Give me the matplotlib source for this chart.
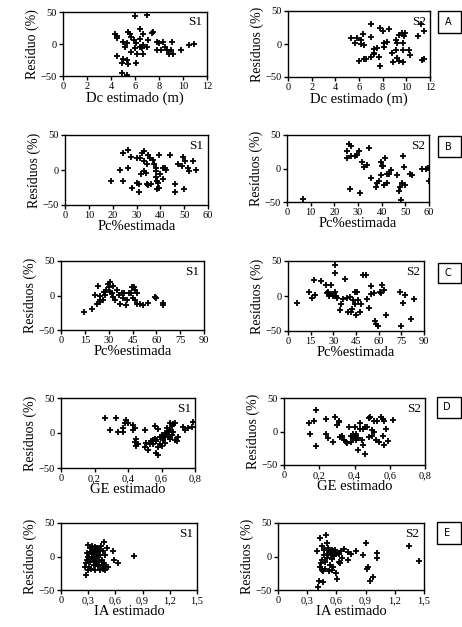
import matplotlib
matplotlib.use("Agg")
import matplotlib.pyplot as plt
from matplotlib.patches import Rectangle

plt.rcParams['font.family'] = ['Liberation Serif', 'DejaVu Serif']

# ---------------- data ----------------
# Panel A: Dc estimado (m)
a1_x = [6.0, 7.0, 4.3, 4.5, 4.5, 5.0, 5.3, 5.4, 5.6, 6.4, 6.7, 7.4, 7.5, 5.7, 5.9, 6.1, 6.4, 6.6, 6.0, 5.7,
        6.2, 6.7, 7.0, 7.1, 4.5, 5.0, 5.3, 5.4, 4.9, 6.1, 4.9, 5.3, 7.8, 8.0, 8.3, 8.5, 7.8, 8.2, 8.7, 9.0,
        9.1, 9.2, 8.8, 9.8, 10.5, 10.9, 6.4, 5.2, 6.7]
a1_y = [43, 45, 16, 12, 10, 3, 1, 19, 16, 24, 16, 17, 19, 11, 6, 1, -5, -7, -7, -12,
        -15, -15, -4, 6, -18, -23, -25, -31, -30, -30, -45, -49, 3, 1, 3, -5, -10, -9, -10, -9,
        3, -15, -15, -9, -2, 0, 8, -5, -1]
a2_x = [5.35, 5.7, 5.8, 6.2, 6.3, 6.4, 6.2, 6.0, 6.4, 6.6, 7.0, 7.0, 7.3, 7.3, 7.5, 7.7, 7.0, 7.3, 7.8, 7.8,
        8.0, 8.1, 8.1, 8.5, 8.8, 8.9, 9.1, 9.1, 9.2, 9.2, 9.4, 9.6, 9.7, 9.7, 9.7, 9.8, 9.4, 10.2, 10.3, 11.0,
        11.2, 11.5, 11.3, 11.5, 8.4, 9.9]
a2_y = [8.5, 2, 8.5, 6, 14.5, -1.5, 0, -25.6, -23, -23, 30, 10, -8, -14, -6.5, -20, -20, -15, -34, 24,
        19, 2, -4, 22, -13, -27, -9, 6, 1, -21.6, 13.6, 17, 2, -9, -27, 12, -26, -9, -17, 12,
        31, 20, -24, -22, 3.5, 16]

# Panel B: Pc% estimada (0-60)
b1_x = [19.5, 23, 24.5, 24.5, 26.5, 26.5, 27.5, 28, 30, 30, 31, 31, 31.5, 32.5, 33, 33, 34, 33, 34.5, 35,
        35.5, 34.5, 35, 36, 37, 37.5, 38, 38, 38, 38.5, 39, 38.5, 39.5, 39.5, 41, 42, 42.5, 41, 44, 46,
        46, 47.5, 49.5, 50, 50.5, 51.5, 52, 53.5, 55, 49, 32, 40]
b1_y = [-15, 0, 25, -15, 3, 28, 19, -25, 17, -18, -20, -32, 17, 25, 27, -1.5, -4, 13, 8, 22,
        17, -20, -22, -20, 15, 9, 3, -1.5, -10, -15, -18, -27, -25, 22, 3, 3, -0.5, -13, 22, -20,
        -32, 8, 19, -27, 13, 3, -1.5, 13, -0.5, 5.5, -6, -6]
b2_x = [6.6, 25.3, 25.3, 26.3, 27, 26.7, 27.2, 28.6, 29.5, 30.5, 30.9, 31.9, 32.6, 33.7, 34.7, 35.4, 37.5, 38.2,
        38.9, 39.6, 39.9, 40.3, 40.7, 41.3, 41, 42.1, 42.4, 43.1, 43.8, 46.3, 47.3, 47.8, 48.1, 48.7, 49.2, 49.4,
        49.7, 52, 52.9, 57.2, 58.6, 59.6, 59.97]
b2_y = [-45, 26, 15, 37, 34, -30, 18, 19, 20, 26, -37, 10, 1.5, 5.4, 30, -14, -27, -22,
        -19, -9, 10, 3, 3, 15, -24, -22, -8, -8, -2, -9.4, -34, -27, -47, -22, 18, 1.5,
        -24, -8, -10, 0, 0, 0.5, -19]

# Panel C: Pc% estimada (0-90)
c1_x = [14.6, 19.5, 21.5, 23.6, 24.3, 24.7, 26.4, 26.8, 27.8, 28.5, 29.3, 29.9, 31, 31, 32, 32.6, 33, 34, 35.1, 36.2,
        37.2, 38.3, 38.9, 39.7, 41, 41.4, 42.5, 43.9, 44.6, 45.2, 46, 46.7, 46.7, 47.7, 48.1, 49.8, 51.9, 55, 59.2, 59.8,
        64, 64.5, 22.6, 24.3]
c1_y = [-23.7, -20, 0.5, 13.5, -9, -1, -6, 5, 0.5, 7.7, 17, 12.6, 20, 5, 3, 13.5, -2, -6.8, 7.7, 0.5,
        -11.6, 3.9, -4.3, 3.9, -14, -6.8, 3, 3.9, 12.6, -4.3, 11.6, 7.7, -6.8, 3.9, -11.6, -11.6, -14, -10.6, -2, -4.3,
        -10.6, -14, -11.6, -6.8]
c2_x = [6.2, 13.7, 15.9, 17.2, 18.1, 21.6, 25.4, 26, 26.5, 26.9, 28.3, 28.7, 29.8, 30.9, 31.3, 30.9, 32, 32.7, 34.2, 35.3,
        36.4, 37.5, 39.3, 39.7, 40.8, 41.5, 42.4, 43, 44.2, 44.6, 45.3, 45.9, 46.4, 47.5, 48.1, 49.7, 51.9, 52.5, 53.4, 54.7,
        55.2, 57, 57.4, 58.5, 59.6, 60.7, 61.4, 62.3, 63.6, 65.1, 74, 75, 76.2, 77.3, 81.7, 83.4]
c2_y = [-10, 6, -2.4, 23.4, 1, 21.5, 15.3, 4.3, 5.7, 0, 3.3, 15.3, -0.5, 5.7, 45, 33, -0.5, -2.4, -19.6, -12,
        -3.8, 24.9, -2.4, -23, -1.4, -23, -18, -5.3, 5.7, -11, -27.8, 5.7, -5.3, -23, -12, 29.7, 29.7, -3.8, -16.7, 13.9,
        3.3, 4.3, -35, -39.7, -43.5, 5.7, 4.3, 15.3, 9, -27.8, 5.7, -43.5, -10, 1, -32.5, -3.8]

# Panel D: GE estimado
d1_x = [0.26, 0.33, 0.29, 0.34, 0.37, 0.38, 0.39, 0.40, 0.37, 0.43, 0.43, 0.44, 0.45, 0.44, 0.46, 0.45, 0.50, 0.51, 0.50, 0.52,
        0.53, 0.55, 0.55, 0.56, 0.56, 0.57, 0.58, 0.57, 0.58, 0.58, 0.59, 0.59, 0.60, 0.60, 0.61, 0.61, 0.62, 0.62, 0.63, 0.63,
        0.64, 0.64, 0.65, 0.65, 0.65, 0.66, 0.66, 0.67, 0.67, 0.68, 0.68, 0.69, 0.70, 0.73, 0.74, 0.76, 0.78, 0.79, 0.57, 0.54, 0.62]
d1_y = [22, 22, 4, 2, 2, 15, 18, 15, 7, 12, 5, 7, -8, -13, -16, -19, -20, -14, 5, -24,
        -16, -10, -15, -8, 10, -12, 6, -28, -32, -20, -15, -5, -3, -18, -8, -10, -5, 0, -2, 7,
        -5, 2, 5, -8, 14, 10, -3, 2, 13, -10, 15, -12, -5, 9, 4, 7, 8, 16, -10, -12, -14]
d2_x = [0.14, 0.15, 0.17, 0.18, 0.18, 0.24, 0.24, 0.25, 0.28, 0.29, 0.30, 0.31, 0.32, 0.33, 0.34, 0.35, 0.36, 0.37, 0.38, 0.38,
        0.39, 0.39, 0.40, 0.40, 0.41, 0.41, 0.42, 0.42, 0.43, 0.43, 0.44, 0.45, 0.45, 0.46, 0.47, 0.48, 0.48, 0.49, 0.50, 0.50,
        0.51, 0.51, 0.52, 0.53, 0.54, 0.55, 0.56, 0.56, 0.57, 0.57, 0.58, 0.59, 0.62, 0.46, 0.31]
d2_y = [12, -4, 15, 32, -22, 18, -3, -10, -15, 22, 10, 14, -8, -7, -13, -15, -17, 7, -7, -16,
        -3, -9, 7, -6, -4, -12, -10, -27, 4, 13, -12, 4, -20, -34, 6, -8, 20, 21, -7, 2,
        0, 15, -13, 16, -15, 22, 18, -6, 16, -20, 3, -14, 17, 7, 15]

# Panel E: IA estimado
e1_x = [0.27, 0.28, 0.28, 0.29, 0.29, 0.30, 0.30, 0.31, 0.31, 0.32, 0.32, 0.33, 0.33, 0.34, 0.34, 0.35, 0.35, 0.36, 0.36, 0.37,
        0.37, 0.38, 0.38, 0.39, 0.39, 0.40, 0.40, 0.41, 0.41, 0.42, 0.42, 0.43, 0.43, 0.44, 0.45, 0.45, 0.46, 0.46, 0.47, 0.47,
        0.48, 0.49, 0.50, 0.51, 0.52, 0.57, 0.58, 0.63, 0.80, 0.30, 0.33]
e1_y = [-15, -27, -10, -5, 5, 17, -20, 3, -15, 12, -8, 6, -18, 16, 0, -3, 10, -12, 4, 14,
        -6, 7, -20, 1, -10, 12, -2, 6, -14, -8, 9, 2, -20, 15, -5, -12, 8, -18, 22, -10,
        -20, 2, -15, 12, -16, 8, -5, -10, 1, 0, -3]
e2_x = [0.40, 0.41, 0.42, 0.43, 0.43, 0.44, 0.45, 0.45, 0.46, 0.46, 0.47, 0.47, 0.48, 0.48, 0.49, 0.50, 0.50, 0.51, 0.51, 0.52,
        0.52, 0.53, 0.54, 0.55, 0.55, 0.56, 0.57, 0.57, 0.58, 0.59, 0.60, 0.60, 0.61, 0.62, 0.63, 0.63, 0.64, 0.65, 0.66, 0.68,
        0.72, 0.72, 0.75, 0.80, 0.87, 0.90, 0.91, 0.92, 0.95, 0.98, 1.02, 1.02, 1.35, 1.45, 0.45, 0.55]
e2_y = [8, -45, -36, -15, 27, -10, 15, -5, -38, -22, 2, 10, -18, -8, 32, 20, -2, 4, 13, -22,
        6, -12, 2, 10, -3, 5, -15, 8, 1, 10, -25, 3, -33, 5, -8, 3, -10, 8, -2, 11,
        -5, 7, 4, 8, 2, 20, -18, -16, -36, -30, 5, -2, 15, -7, -20, -20]

xlabels = ['Dc estimado (m)', 'Pc%estimada', 'Pc%estimada', 'GE estimado', 'IA estimado']
xlims = [(0, 12), (0, 60), (0, 90), (0, 0.8), (0, 1.5)]
xticks = [[0, 2, 4, 6, 8, 10, 12], [0, 10, 20, 30, 40, 50, 60], [0, 15, 30, 45, 60, 75, 90],
          [0, 0.2, 0.4, 0.6, 0.8], [0, 0.3, 0.6, 0.9, 1.2, 1.5]]
xticklabels = [['0', '2', '4', '6', '8', '10', '12'], ['0', '10', '20', '30', '40', '50', '60'],
               ['0', '15', '30', '45', '60', '75', '90'], ['0', '0,2', '0,4', '0,6', '0,8'],
               ['0', '0,3', '0,6', '0,9', '1,2', '1,5']]
yticks = [-50, 0, 50]
panel_letters = ['A', 'B', 'C', 'D', 'E']
series_labels = ['S1', 'S2']
data = [[(a1_x, a1_y), (a2_x, a2_y)], [(b1_x, b1_y), (b2_x, b2_y)], [(c1_x, c1_y), (c2_x, c2_y)],
        [(d1_x, d1_y), (d2_x, d2_y)], [(e1_x, e1_y), (e2_x, e2_y)]]

# ---------------- layout (pixels) ----------------
W, H = 462, 627
fig = plt.figure(figsize=(W / 100, H / 100), dpi=100)
fig.patch.set_facecolor('white')

# (left, right, top, bottom) in pixels
boxes = [
    [(63, 207, 12, 76), (288, 430, 11, 77)],
    [(65, 208, 135, 205), (287, 429, 135, 202)],
    [(61, 204, 261, 330), (288, 424, 261, 331)],
    [(61, 195, 398, 468), (284, 425, 398, 465)],
    [(61, 197, 523, 590), (278, 424, 523, 590)],
]
letter_boxes = [(438, 11, 33), (438, 136, 157), (438, 263, 283), (437, 397, 418), (437, 522, 544)]

for r in range(5):
    for c in range(2):
        l, rr, t, b = boxes[r][c]
        ax = fig.add_axes([l / W, 1 - b / H, (rr - l) / W, (b - t) / H])
        x, y = data[r][c]
        ax.plot(x, y, linestyle='none', marker='+', color='black', markersize=5, markeredgewidth=1.3)
        ax.set_xlim(*xlims[r])
        ax.set_ylim(-50, 50)
        ax.set_xticks(xticks[r])
        ax.set_xticklabels(xticklabels[r])
        ax.set_yticks(yticks)
        ax.tick_params(direction='out', length=3, width=1, labelsize=7.5, pad=1.5, colors='black')
        for s in ax.spines.values():
            s.set_linewidth(1.0)
            s.set_color('black')
        ax.set_xlabel(xlabels[r], fontsize=10.5, labelpad=0)
        ylab = 'Resíduo (%)' if (r == 0 and c == 0) else 'Resíduos (%)'
        ax.set_ylabel(ylab, fontsize=10, labelpad=1)
        ax.text(0.97, 0.93, series_labels[c], transform=ax.transAxes, ha='right', va='top', fontsize=9.5)

for letter, (lx, ty, by) in zip(panel_letters, letter_boxes):
    rect = Rectangle((lx / W, 1 - by / H), (W - 1 - lx) / W, (by - ty) / H, transform=fig.transFigure,
                     facecolor='white', edgecolor='black', linewidth=1.0)
    fig.patches.append(rect)
    fig.text((lx + 10) / W, 1 - ((ty + by) / 2) / H, letter, ha='center', va='center', fontsize=7,
             family=['DejaVu Sans'])

fig.savefig('out.png', dpi=100, facecolor='white')
